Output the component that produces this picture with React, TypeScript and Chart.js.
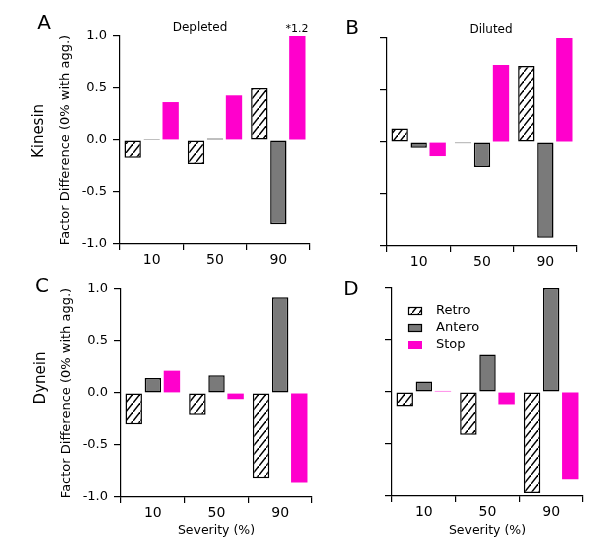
import React, { useEffect, useRef } from 'react';
import { Chart, registerables } from 'chart.js';
Chart.register(...registerables);

const FONT = 'DejaVu Sans';

const categories = ['10', '50', '90'];
const seriesNames = ['Retro', 'Antero', 'Stop'];
const yTickValues = [-1, -0.5, 0, 0.5, 1];

// A: Kinesin, Depleted
const kinDepRetro = [-0.17, -0.23, 0.5];
const kinDepAntero = [0.01, 0.015, -0.81];
const kinDepStop = [0.365, 0.43, 1.2];
// B: Kinesin, Diluted
const kinDilRetro = [0.13, -0.012, 0.73];
const kinDilAntero = [-0.055, -0.24, -0.92];
const kinDilStop = [-0.135, 0.74, 1.0];
// C: Dynein, Depleted
const dynDepRetro = [-0.3, -0.21, -0.82];
const dynDepAntero = [0.145, 0.17, 0.92];
const dynDepStop = [0.215, -0.06, -0.86];
// D: Dynein, Diluted
const dynDilRetro = [-0.14, -0.41, -0.97];
const dynDilAntero = [0.1, 0.36, 1.0];
const dynDilStop = [0.01, -0.12, -0.84];

const ANTERO_COLOR = '#7a7a7a';
const STOP_COLOR = '#ff00cc';

function makeHatch(): CanvasPattern | string {
  const w = 7;
  const h = 9;
  const c = document.createElement('canvas');
  c.width = w;
  c.height = h;
  const g = c.getContext('2d');
  if (!g) return '#fff';
  g.fillStyle = '#fff';
  g.fillRect(0, 0, w, h);
  g.strokeStyle = '#000';
  g.lineWidth = 1.4;
  g.beginPath();
  g.moveTo(-w * 0.25, h * 1.25);
  g.lineTo(w * 1.25, -h * 0.25);
  g.stroke();
  const p = g.createPattern(c, 'repeat');
  return p || '#fff';
}

const boxLegend = {
  id: 'boxLegend',
  afterDraw(chart: any) {
    const { ctx, chartArea } = chart;
    const x0 = chartArea.left + 16;
    const y0 = chartArea.top + 19;
    chart.data.datasets.forEach((ds: any, i: number) => {
      const y = y0 + i * 17;
      ctx.save();
      ctx.fillStyle = ds.backgroundColor;
      ctx.fillRect(x0, y, 14, 8);
      if (ds.borderWidth) {
        ctx.strokeStyle = '#000';
        ctx.lineWidth = 1.2;
        ctx.strokeRect(x0 + 0.5, y + 0.5, 13, 7);
      }
      ctx.fillStyle = '#000';
      ctx.font = `13px "${FONT}"`;
      ctx.textBaseline = 'middle';
      ctx.textAlign = 'left';
      ctx.fillText(ds.label, x0 + 28, y + 4);
      ctx.restore();
    });
  },
};

type PanelProps = {
  left: number;
  top: number;
  width: number;
  height: number;
  pad: { left: number; top: number; right: number };
  yWidth: number;
  xHeight: number;
  showY: boolean;
  showXTitle: boolean;
  legend: boolean;
  retro: number[];
  antero: number[];
  stop: number[];
};

function Panel(p: PanelProps) {
  const ref = useRef<HTMLCanvasElement>(null);
  useEffect(() => {
    if (!ref.current) return;
    const hatch = makeHatch();
    const common = { borderSkipped: false as const, clip: 0 };
    const chart = new Chart(ref.current, {
      type: 'bar',
      data: {
        labels: categories,
        datasets: [
          { label: seriesNames[0], data: p.retro, backgroundColor: hatch as any, borderColor: '#000', borderWidth: 1.5, ...common },
          { label: seriesNames[1], data: p.antero, backgroundColor: ANTERO_COLOR, borderColor: '#000', borderWidth: 1.5, ...common },
          { label: seriesNames[2], data: p.stop, backgroundColor: STOP_COLOR, borderColor: STOP_COLOR, borderWidth: 0, ...common },
        ],
      },
      options: {
        animation: false,
        responsive: false,
        maintainAspectRatio: false,
        layout: { padding: { left: p.pad.left, top: p.pad.top, right: p.pad.right, bottom: 0 } },
        datasets: { bar: { categoryPercentage: 0.9, barPercentage: 0.86 } },
        plugins: { legend: { display: false }, tooltip: { enabled: false } },
        scales: {
          x: {
            grid: { offset: true, drawOnChartArea: false, drawTicks: true, tickLength: 6, color: '#000', lineWidth: 1.2 },
            border: { display: true, color: '#000', width: 1.2 },
            ticks: { color: '#000', font: { family: FONT, size: 14 }, padding: 2, maxRotation: 0 },
            title: {
              display: p.showXTitle,
              text: 'Severity (%)',
              color: '#000',
              font: { family: FONT, size: 12.5 },
              padding: { top: 0, bottom: 0 },
            },
            afterFit: (s: any) => {
              s.height = p.xHeight;
            },
          },
          y: {
            min: -1,
            max: 1,
            afterBuildTicks: (s: any) => {
              s.ticks = yTickValues.map((v) => ({ value: v }));
            },
            grid: { drawOnChartArea: false, drawTicks: true, tickLength: 7, color: '#000', lineWidth: 1.2 },
            border: { display: true, color: '#000', width: 1.2 },
            ticks: {
              display: p.showY,
              color: '#000',
              font: { family: FONT, size: 13 },
              padding: 6,
              callback: (v: any) => Number(v).toFixed(1),
            },
            title: {
              display: p.showY,
              text: 'Factor Difference (0% with agg.)',
              color: '#000',
              font: { family: FONT, size: 13 },
              padding: { top: 4, bottom: 0 },
            },
            afterFit: (s: any) => {
              s.width = p.yWidth;
            },
          },
        },
      },
      plugins: p.legend ? [boxLegend] : [],
    });
    return () => chart.destroy();
  }, []);
  return (
    <canvas
      ref={ref}
      width={p.width}
      height={p.height}
      style={{ position: 'absolute', left: p.left, top: p.top, width: p.width, height: p.height }}
    />
  );
}

function Label(props: { x: number; y: number; size: number; text: string; rotate?: boolean }) {
  return (
    <div
      style={{
        position: 'absolute',
        left: props.x,
        top: props.y,
        transform: `translate(-50%, -50%)${props.rotate ? ' rotate(-90deg)' : ''}`,
        fontFamily: FONT,
        fontSize: props.size,
        lineHeight: 1,
        whiteSpace: 'nowrap',
        color: '#000',
      }}
    >
      {props.text}
    </div>
  );
}

export default function App() {
  return (
    <div style={{ position: 'absolute', left: 0, top: 0, width: 600, height: 546, background: '#fff', overflow: 'hidden' }}>
      <Panel left={0} top={0} width={330} height={275} pad={{ left: 54, top: 36, right: 20 }} yWidth={66} xHeight={31}
        showY showXTitle={false} legend={false} retro={kinDepRetro} antero={kinDepAntero} stop={kinDepStop} />
      <Panel left={300} top={0} width={300} height={275} pad={{ left: 0, top: 38, right: 23 }} yWidth={87} xHeight={29}
        showY={false} showXTitle={false} legend={false} retro={kinDilRetro} antero={kinDilAntero} stop={kinDilStop} />
      <Panel left={0} top={250} width={330} height={288} pad={{ left: 55, top: 39, right: 18 }} yWidth={66} xHeight={41}
        showY showXTitle legend={false} retro={dynDepRetro} antero={dynDepAntero} stop={dynDepStop} />
      <Panel left={300} top={250} width={300} height={288} pad={{ left: 0, top: 38, right: 17 }} yWidth={92} xHeight={42}
        showY={false} showXTitle legend retro={dynDilRetro} antero={dynDilAntero} stop={dynDilStop} />

      <Label x={44} y={22} size={20} text="A" />
      <Label x={352} y={27} size={20} text="B" />
      <Label x={42} y={285} size={20} text="C" />
      <Label x={351} y={288} size={20} text="D" />
      <Label x={38} y={131} size={15} text="Kinesin" rotate />
      <Label x={40} y={378} size={15} text="Dynein" rotate />
      <Label x={200} y={27} size={12} text="Depleted" />
      <Label x={491} y={29} size={12} text="Diluted" />
      <Label x={297} y={28} size={11} text="*1.2" />
    </div>
  );
}
